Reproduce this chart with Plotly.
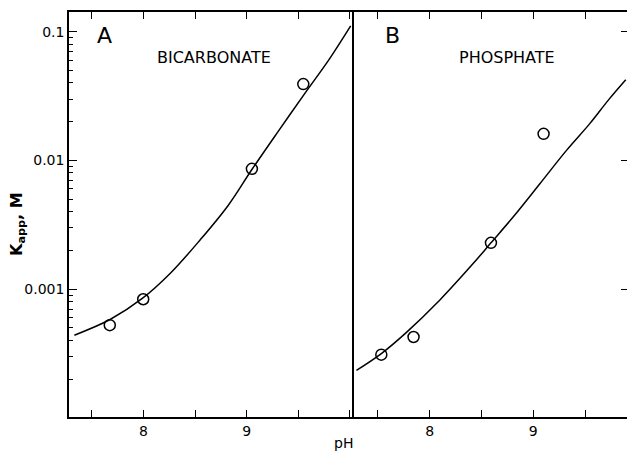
import plotly.graph_objects as go

# ---- data ----
bic_ph = [7.673, 7.997, 9.05, 9.548]
bic_k = [5.25e-4, 8.35e-4, 8.6e-3, 0.0392]
bic_curve_ph = [7.330, 7.676, 7.988, 8.260, 8.548, 8.820, 9.050, 9.300, 9.565, 9.807, 10.007]
bic_curve_k = [4.39e-4, 5.81e-4, 8.47e-4, 1.33e-3, 2.41e-3, 4.47e-3, 8.5e-3, 0.0166, 0.0333, 0.0624, 0.111]

pho_ph = [7.534, 7.845, 8.592, 9.10]
pho_k = [3.1e-4, 4.25e-4, 2.29e-3, 0.0161]
pho_curve_ph = [7.294, 7.534, 7.774, 8.097, 8.420, 8.592, 8.808, 9.066, 9.323, 9.548, 9.725, 9.893]
pho_curve_k = [2.34e-4, 3.16e-4, 4.60e-4, 8.21e-4, 1.58e-3, 2.29e-3, 3.65e-3, 6.62e-3, 0.01202, 0.0194, 0.0294, 0.0423]

y_tickvals = [0.1, 0.01, 0.001]
y_ticktext = ["0.1", "0.01", "0.001"]
x_tickvals = [8, 9]
x_ticktext = ["8", "9"]
x_allticks = [7.5, 8, 8.5, 9, 9.5]

panel_labels = ["A", "B"]
panel_titles = ["BICARBONATE", "PHOSPHATE"]
x_title = "pH"
y_title = "<b>K<sub>app</sub>, M</b>"

# ---- layout geometry ----
W, H = 627, 453
ML, MR, MT, MB = 69, 0, 12, 36
PW, PH = W - ML - MR, H - MT - MB


def px(x):
    return (x - ML) / PW


def py(y):
    return (H - MB - y) / PH


split = px(352)
FONT = "DejaVu Sans"
xrA = [7.278, 10.02]
xrB = [7.251, 9.905]
yrange = [-3.993, -0.847]
minor_vals = [m * 10.0 ** e for e in range(-4, 0) for m in range(2, 10)]

fig = go.Figure()
line_style = dict(color="black", width=1.5, shape="spline", smoothing=1.0)
marker_style = dict(symbol="circle-open", size=11, color="black", line=dict(width=1.5, color="black"))

fig.add_trace(go.Scatter(x=bic_curve_ph, y=bic_curve_k, mode="lines", line=line_style,
                         xaxis="x", yaxis="y", showlegend=False, hoverinfo="skip"))
fig.add_trace(go.Scatter(x=bic_ph, y=bic_k, mode="markers", marker=marker_style,
                         xaxis="x", yaxis="y", showlegend=False))
fig.add_trace(go.Scatter(x=pho_curve_ph, y=pho_curve_k, mode="lines", line=line_style,
                         xaxis="x2", yaxis="y2", showlegend=False, hoverinfo="skip"))
fig.add_trace(go.Scatter(x=pho_ph, y=pho_k, mode="markers", marker=marker_style,
                         xaxis="x2", yaxis="y2", showlegend=False))
# empty helper traces so the tick-only overlay axes are drawn
fig.add_trace(go.Scatter(x=[None], y=[None], xaxis="x3", yaxis="y3", showlegend=False, hoverinfo="skip"))
fig.add_trace(go.Scatter(x=[None], y=[None], xaxis="x4", yaxis="y4", showlegend=False, hoverinfo="skip"))

xcommon = dict(showgrid=False, zeroline=False, showline=True, linecolor="black", linewidth=1.5,
               mirror="ticks", ticks="inside", ticklen=7, tickwidth=1.3, tickcolor="black",
               tickmode="array", tickvals=x_tickvals, ticktext=x_ticktext, automargin=False,
               tickfont=dict(family=FONT, size=14, color="black"),
               minor=dict(tickmode="linear", tick0=7.5, dtick=0.5, ticks="inside", ticklen=7,
                          tickwidth=1.3, tickcolor="black", showgrid=False))
xtop = dict(side="top", showgrid=False, ticks="inside", ticklen=7, tickwidth=1.3, tickcolor="black",
            tickmode="array", tickvals=x_allticks, showticklabels=False)

fig.update_layout(
    width=W, height=H,
    margin=dict(l=ML, r=MR, t=MT, b=MB),
    paper_bgcolor="white", plot_bgcolor="white",
    xaxis=dict(domain=[0, split], range=xrA, anchor="y", **xcommon),
    xaxis2=dict(domain=[split, 1], range=xrB, anchor="y2", **xcommon),
    xaxis3=dict(range=xrA, anchor="y", overlaying="x", **xtop),
    xaxis4=dict(range=xrB, anchor="y2", overlaying="x2", **xtop),
    yaxis=dict(type="log", range=yrange, domain=[0, 1], anchor="x", automargin=False,
               showgrid=False, zeroline=False, showline=True, linecolor="black", linewidth=1.5,
               mirror=True, ticks="inside", ticklen=8, tickwidth=1.3, tickcolor="black",
               tickmode="array", tickvals=y_tickvals, ticktext=y_ticktext,
               tickfont=dict(family=FONT, size=14, color="black")),
    yaxis3=dict(type="log", range=yrange, anchor="x", overlaying="y", side="left",
                showgrid=False, ticks="inside", ticklen=4, tickwidth=1.2, tickcolor="black",
                tickmode="array", tickvals=minor_vals, showticklabels=False),
    yaxis2=dict(type="log", range=yrange, domain=[0, 1], anchor="x2", side="right",
                automargin=False, showgrid=False, zeroline=False, showline=False,
                ticks="inside", ticklen=6, tickwidth=1.3, tickcolor="black",
                tickmode="array", tickvals=y_tickvals, showticklabels=False),
    yaxis4=dict(type="log", range=yrange, anchor="x2", overlaying="y2", side="right",
                showgrid=False, showline=False, ticks="", showticklabels=False),
)

ann_font = dict(family=FONT, color="black")
annotations = [
    dict(x=px(104.5), y=py(35), text=panel_labels[0], font=dict(size=22, **ann_font)),
    dict(x=px(214), y=py(57), text=panel_titles[0], font=dict(size=16, **ann_font)),
    dict(x=px(392), y=py(35), text=panel_labels[1], font=dict(size=22, **ann_font)),
    dict(x=px(506.5), y=py(57), text=panel_titles[1], font=dict(size=16, **ann_font)),
    dict(x=px(343), y=py(443), text=x_title, font=dict(size=14, **ann_font)),
    dict(x=px(17), y=py(224), text=y_title, textangle=-90, font=dict(size=16, **ann_font)),
]
for a in annotations:
    fig.add_annotation(xref="paper", yref="paper", showarrow=False,
                       xanchor="center", yanchor="middle", **a)

fig.write_html("out.html", config={"displayModeBar": False},
               post_script="document.body.style.margin='0';document.body.style.padding='0';"
                           "document.body.style.overflow='hidden';")
